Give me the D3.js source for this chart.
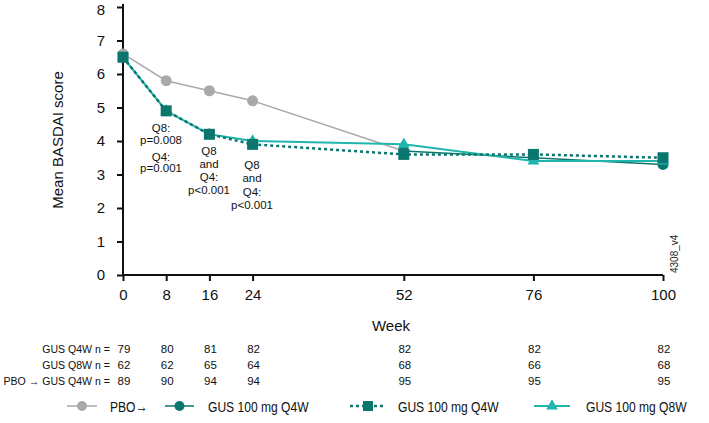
<!DOCTYPE html>
<html><head><meta charset="utf-8">
<script src="https://cdn.jsdelivr.net/npm/d3@7"></script>
<style>body{margin:0;background:#fff}svg{font-family:"Liberation Sans",Arial,sans-serif}</style>
</head><body><svg id="c" width="709" height="423"></svg>
<script>
const weeks = [0, 8, 16, 24, 52, 76, 100];
const yTicks = [0, 1, 2, 3, 4, 5, 6, 7, 8];
const pboWeeks = [0, 8, 16, 24];
const pboValues = [6.6, 5.8, 5.5, 5.2];
const pboGusWeeks = [52, 76, 100];
const pboGusValues = [3.7, 3.5, 3.3];
const q4wValues = [6.5, 4.9, 4.2, 3.9, 3.6, 3.6, 3.5];
const q8wValues = [6.5, 4.9, 4.2, 4.0, 3.9, 3.4, 3.4];
const nRowLabels = ["GUS Q4W n =", "GUS Q8W n =", "PBO \u2192 GUS Q4W n ="];
const nQ4W = [79, 80, 81, 82, 82, 82, 82];
const nQ8W = [62, 62, 65, 64, 68, 66, 68];
const nPBO = [89, 90, 94, 94, 95, 95, 95];
const annotations = [
  {week: 8, lines: ["Q8:", "p=0.008", "Q4:", "p=0.001"]},
  {week: 16, lines: ["Q8", "and", "Q4:", "p<0.001"]},
  {week: 24, lines: ["Q8", "and", "Q4:", "p<0.001"]}
];
const legendLabels = ["PBO\u2192", "GUS 100 mg Q4W", "GUS 100 mg Q4W", "GUS 100 mg Q8W"];

const GRAY = "#a9a9a9", DARK = "#0b766e", LIGHT = "#1fb5ad";
const svg = d3.select("#c");
const x = d3.scaleLinear().domain([0, 100]).range([123, 663]);
const y = d3.scaleLinear().domain([0, 8]).range([275, 7]);

// axes
const ax = svg.append("g").attr("transform", "translate(0,275)")
  .call(d3.axisBottom(x).tickValues(weeks).tickSize(6).tickPadding(8).tickSizeOuter(0));
const ay = svg.append("g").attr("transform", "translate(123,0)")
  .call(d3.axisLeft(y).tickValues(yTicks).tickSize(6).tickPadding(12).tickSizeOuter(0));
[ax, ay].forEach(g => {
  g.selectAll("path,line").attr("stroke", "#111").attr("stroke-width", 2);
  g.selectAll("text").attr("font-size", 15).attr("fill", "#111").attr("font-family", null);
});
ay.selectAll(".tick text").filter(d => d === 8).attr("y", 3);
ay.select(".domain").attr("d", "M0,4V275");
ax.select(".domain").attr("d", "M122,0H663");

svg.append("text").attr("transform", "translate(63,140) rotate(-90)").attr("text-anchor", "middle")
  .attr("font-size", 15).attr("fill", "#111").text("Mean BASDAI score");
svg.append("text").attr("x", 391).attr("y", 331).attr("text-anchor", "middle")
  .attr("font-size", 15).attr("fill", "#111").text("Week");

// watermark
svg.append("text").attr("transform", "translate(678,273) rotate(-90)")
  .attr("font-size", 10).attr("fill", "#222").text("4308_v4");

const line = d3.line().x(d => x(d[0])).y(d => y(d[1]));

// PBO gray
const pboPts = pboWeeks.map((w, i) => [w, pboValues[i]]);
svg.append("path").attr("d", line(pboPts.concat([[pboGusWeeks[0], pboGusValues[0]]])))
  .attr("fill", "none").attr("stroke", GRAY).attr("stroke-width", 1.5);
svg.selectAll(".pc").data(pboPts).join("circle").attr("cx", d => x(d[0])).attr("cy", d => y(d[1]))
  .attr("r", 5.5).attr("fill", GRAY);

// PBO -> GUS teal circles
const pgPts = pboGusWeeks.map((w, i) => [w, pboGusValues[i]]);
svg.append("path").attr("d", line(pgPts)).attr("fill", "none").attr("stroke", DARK).attr("stroke-width", 1.5);
svg.selectAll(".pg").data(pgPts).join("circle").attr("cx", d => x(d[0])).attr("cy", d => y(d[1]))
  .attr("r", 5.5).attr("fill", DARK);

// Q8W triangles
const q8Pts = weeks.map((w, i) => [w, q8wValues[i]]);
svg.append("path").attr("d", line(q8Pts)).attr("fill", "none").attr("stroke", LIGHT).attr("stroke-width", 2);
const tri = d3.symbol().type(d3.symbolTriangle).size(60);
svg.selectAll(".tr").data(q8Pts).join("path").attr("d", tri)
  .attr("transform", d => `translate(${x(d[0])},${y(d[1])})`).attr("fill", LIGHT);

// Q4W squares dotted
const q4Pts = weeks.map((w, i) => [w, q4wValues[i]]);
svg.append("path").attr("d", line(q4Pts)).attr("fill", "none").attr("stroke", DARK)
  .attr("stroke-width", 2.5).attr("stroke-dasharray", "3,3");
svg.selectAll(".sq").data(q4Pts).join("rect")
  .attr("x", d => x(d[0]) - 5.5).attr("y", d => y(d[1]) - 5.5).attr("width", 11).attr("height", 11).attr("fill", DARK);

// annotations
const annoY = [[128, 140, 157, 168], [151, 164, 177, 190], [165, 178, 192, 205]];
const annoX = [161, 209, 252];
annotations.forEach((a, k) => {
  a.lines.forEach((t, j) => {
    svg.append("text").attr("x", annoX[k]).attr("y", annoY[k][j] + 4).attr("text-anchor", "middle")
      .attr("font-size", 11.5).attr("fill", "#111").text(t);
  });
});

// n table
const rowsY = [353, 369, 385];
[nQ4W, nQ8W, nPBO].forEach((vals, r) => {
  svg.append("text").attr("transform", `translate(110,${rowsY[r]}) scale(0.92,1)`).attr("text-anchor", "end")
    .attr("font-size", 11.5).attr("fill", "#111").text(nRowLabels[r]);
  vals.forEach((v, i) => {
    svg.append("text").attr("x", x(weeks[i]) + 1).attr("y", rowsY[r]).attr("text-anchor", "middle")
      .attr("font-size", 11.5).attr("fill", "#111").text(v);
  });
});

// legend
const ly = 406;
const leg = [
  {x1: 67, x2: 97, color: GRAY, shape: "circle", dash: null, tx: 110, w: 1.5},
  {x1: 165, x2: 194, color: DARK, shape: "circle", dash: null, tx: 208, w: 1.5},
  {x1: 350, x2: 386, color: DARK, shape: "square", dash: "3,3", tx: 398, w: 2.5},
  {x1: 534, x2: 570, color: LIGHT, shape: "triangle", dash: null, tx: 586, w: 2}
];
leg.forEach((l, i) => {
  svg.append("line").attr("x1", l.x1).attr("x2", l.x2).attr("y1", ly).attr("y2", ly)
    .attr("stroke", l.color).attr("stroke-width", l.w).attr("stroke-dasharray", l.dash);
  const cx = (l.x1 + l.x2) / 2;
  if (l.shape === "circle") svg.append("circle").attr("cx", cx).attr("cy", ly).attr("r", 5).attr("fill", l.color);
  else if (l.shape === "square") svg.append("rect").attr("x", cx - 5).attr("y", ly - 5).attr("width", 10).attr("height", 10).attr("fill", l.color);
  else svg.append("path").attr("d", tri).attr("transform", `translate(${cx},${ly})`).attr("fill", l.color);
  svg.append("text").attr("transform", `translate(${l.tx},${ly + 5.5}) scale(0.78,1)`)
    .attr("font-size", 15.5).attr("fill", "#111").text(legendLabels[i]);
});
</script></body></html>
